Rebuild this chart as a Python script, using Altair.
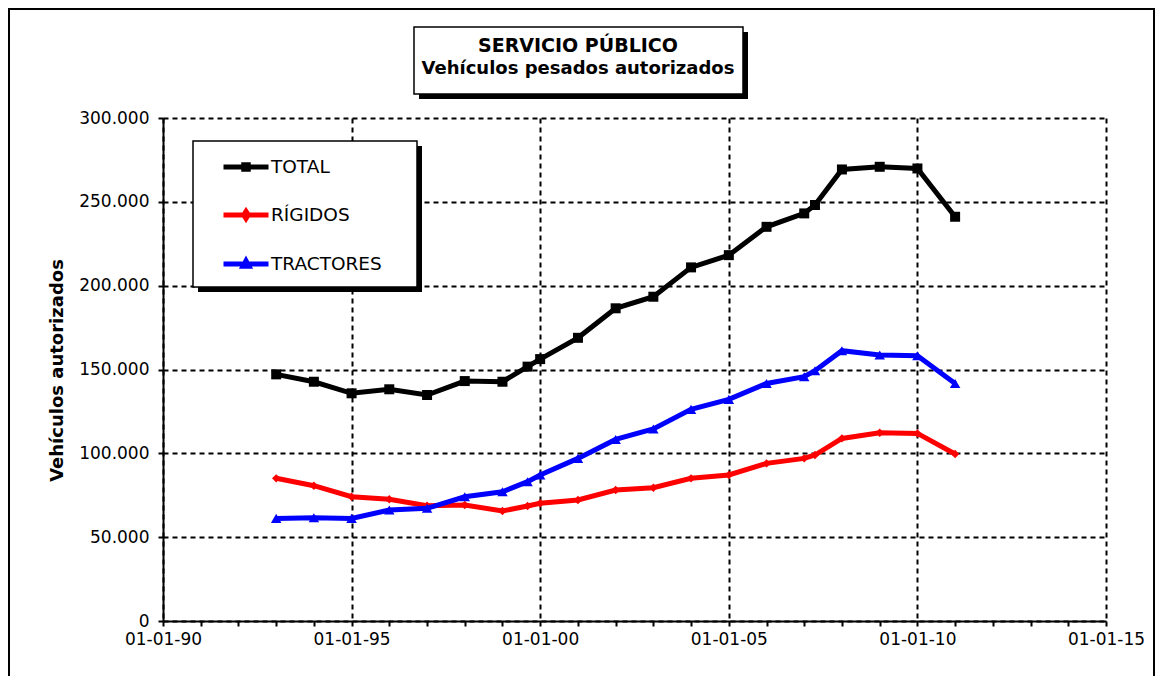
import altair as alt
import pandas as pd

# ---------------- data ----------------
DATES = ["1993-01-01", "1994-01-01", "1995-01-01", "1996-01-01", "1997-01-01",
         "1998-01-01", "1999-01-01", "1999-09-01", "2000-01-01", "2001-01-01",
         "2002-01-01", "2003-01-01", "2004-01-01", "2005-01-01", "2006-01-01",
         "2007-01-01", "2007-04-15", "2008-01-01", "2009-01-01", "2010-01-01",
         "2011-01-01"]
TOTAL = [147100, 142700, 135800, 138200, 134800, 143100, 142700, 151700, 156200,
         168900, 186500, 193400, 210900, 218200, 235100, 243100, 248100, 269300,
         270900, 269900, 241100]
RIGIDOS = [85100, 80700, 74100, 72600, 68800, 69200, 65600, 68600, 70200, 72200,
           78100, 79500, 85100, 87100, 94000, 97000, 99000, 108900, 112300, 111900,
           99600]
TRACTORES = [61200, 61600, 61200, 66200, 67200, 74100, 77100, 83100, 87100, 97000,
             108300, 114500, 126200, 132200, 141700, 145700, 149300, 161200, 158600,
             158200, 141700]

SERIES = ["TOTAL", "RÍGIDOS", "TRACTORES"]
COLORS = ["#000000", "#ff0000", "#0000ff"]
MARKERS = ["square", "diamond", "triangle-up"]
MARKER_SIZES = [100, 70, 110]
LEGEND_SYMBOLS = ["M-1,0H1M-0.1,-0.1H0.1V0.1H-0.1Z",
                  "M-1,0H1M0,-0.16L0.1,0L0,0.16L-0.1,0Z",
                  "M-1,0H1M-0.13,0.1L0,-0.14L0.13,0.1Z"]
TITLE_LINES = ["SERVICIO PÚBLICO", "Vehículos pesados autorizados"]
Y_TITLE = "Vehículos autorizados"
Y_TICKS = [0, 50000, 100000, 150000, 200000, 250000, 300000]
X_YEARS = list(range(1990, 2016))

rows = []
for name, vals in zip(SERIES, [TOTAL, RIGIDOS, TRACTORES]):
    for d, v in zip(DATES, vals):
        rows.append({"date": d, "series": name, "value": v})
df = pd.DataFrame(rows)

FONT = "DejaVu Sans"

x_enc = alt.X(
    "date:T",
    title=None,
    scale=alt.Scale(type="utc",
                    domain=[alt.DateTime(year=1990, month=1, date=1, utc=True),
                            alt.DateTime(year=2015, month=1, date=1, utc=True)]),
    axis=alt.Axis(
        values=[alt.DateTime(year=y, month=1, date=1, utc=True) for y in X_YEARS],
        labelExpr="utcyear(datum.value) % 5 == 0 ? utcFormat(datum.value, '%d-%m-%y') : ''",
        gridOpacity={"condition": {"test": "utcyear(datum.value) % 5 == 0", "value": 1}, "value": 0},
        labelFlush=False,
        labelOverlap=False,
        labelPadding=5,
    ),
)
y_enc = alt.Y(
    "value:Q",
    scale=alt.Scale(domain=[0, 300000], nice=False),
    axis=alt.Axis(
        values=Y_TICKS,
        labelExpr="datum.value == 0 ? '0' : format(datum.value / 1000, 'd') + '.000'",
        labelPadding=9,
        title=Y_TITLE,
        titleFont=FONT,
        titleFontSize=18,
        titleFontWeight="bold",
        titleX=-106,
        titleY=252,
        titleAngle=270,
        titleAlign="center",
        titleBaseline="middle",
    ),
)

layers = []

deco = alt.Chart(pd.DataFrame({"k": [0]}))
# outer frame
layers.append(deco.mark_rect(fillOpacity=0, stroke="black", strokeWidth=2).encode(
    x=alt.value(-154), x2=alt.value(991), y=alt.value(-109), y2=alt.value(620)))
# title box with shadow
layers.append(deco.mark_rect(color="black").encode(
    x=alt.value(256), x2=alt.value(585), y=alt.value(-86), y2=alt.value(-19)))
layers.append(deco.mark_rect(fill="white", stroke="black", strokeWidth=1.5).encode(
    x=alt.value(251), x2=alt.value(580), y=alt.value(-91), y2=alt.value(-24)))
layers.append(deco.mark_text(text=TITLE_LINES[0], font=FONT, fontSize=19, fontWeight="bold",
                             align="center", baseline="alphabetic", color="black").encode(
    x=alt.value(415), y=alt.value(-66)))
layers.append(deco.mark_text(text=TITLE_LINES[1], font=FONT, fontSize=18, fontWeight="bold",
                             align="center", baseline="alphabetic", color="black").encode(
    x=alt.value(415), y=alt.value(-44)))
# legend box with shadow
layers.append(deco.mark_rect(color="black").encode(
    x=alt.value(35), x2=alt.value(259), y=alt.value(28), y2=alt.value(174)))
layers.append(deco.mark_rect(fill="white", stroke="black", strokeWidth=1.5).encode(
    x=alt.value(30), x2=alt.value(254), y=alt.value(23), y2=alt.value(169)))

for name, col, mk, ms in zip(SERIES, COLORS, MARKERS, MARKER_SIZES):
    sub = alt.Chart(df).transform_filter(alt.datum.series == name)
    layers.append(sub.mark_line(color=col, strokeWidth=5).encode(x=x_enc, y=y_enc))
    layers.append(sub.mark_point(shape=mk, size=ms, filled=True, opacity=1, color=col)
                  .encode(x=x_enc, y=y_enc))

leg = alt.Legend(title=None, orient="none", legendX=58, legendY=24, padding=0,
                 labelFont=FONT, labelFontSize=18.5, labelColor="black", labelOffset=0,
                 symbolSize=2025, symbolStrokeWidth=5, rowPadding=10, symbolOpacity=1)
layers.append(
    alt.Chart(df).transform_filter("false").mark_point(filled=False, strokeWidth=5).encode(
        x=x_enc, y=y_enc,
        color=alt.Color("series:N", scale=alt.Scale(domain=SERIES, range=COLORS), legend=leg),
        shape=alt.Shape("series:N", scale=alt.Scale(domain=SERIES, range=LEGEND_SYMBOLS), legend=leg),
    )
)

chart = alt.layer(*layers).properties(
    width=943, height=503,
    autosize=alt.AutoSizeParams(type="none"),
    padding={"left": 155, "top": 110, "right": 50, "bottom": 55},
    background="white",
).configure_view(stroke=None).configure_axis(
    labelFont=FONT, labelFontSize=17, labelColor="black",
    domainColor="black", domainWidth=2,
    tickColor="black", tickWidth=2, tickSize=5,
    gridColor="black", gridDash=[5, 4], gridWidth=2,
)

chart.save("out.html", embed_options={"renderer": "svg", "actions": False})
